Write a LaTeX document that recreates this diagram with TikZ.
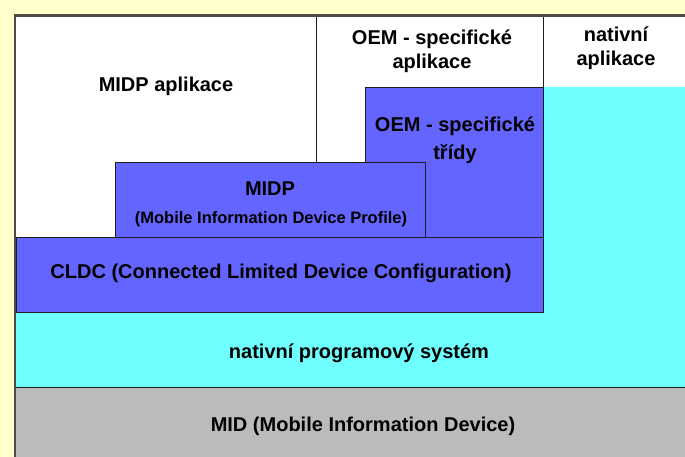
\documentclass[tikz,border=0pt]{standalone}
\usepackage{fontspec}
\setmainfont{Liberation Sans}
\definecolor{paleyellow}{HTML}{FFFFCC}
\definecolor{layerblue}{HTML}{6464FF}
\definecolor{layercyan}{HTML}{70FFFF}
\definecolor{layergrey}{HTML}{BBBBBB}
\definecolor{edge}{HTML}{1E1E1E}
\definecolor{frameline}{HTML}{4C4C44}
\tikzset{
  layer/.style={draw=edge, line width=0.9pt},
  divider/.style={draw=edge, line width=0.9pt},
  label/.style={font=\fontsize{20}{24}\selectfont\bfseries, align=center, inner sep=0pt},
  smalllabel/.style={font=\fontsize{16.5}{20}\selectfont\bfseries, align=center, inner sep=0pt}
}
\begin{document}
\begin{tikzpicture}[x=1pt, y=-1pt]
  % page area
  \fill[paleyellow] (0,0) rectangle (685,457);
  \useasboundingbox (0,0) rectangle (685,457);
  \fill[white] (16,17) rectangle (685,457);

  % native system (cyan) around the Java stack
  \fill[layercyan] (543,87) -- (685,87) -- (685,387) -- (16,387) -- (16,312) -- (543,312) -- cycle;
  \draw[edge, line width=0.6pt] (543,87) -- (543,312);

  % device layer
  \fill[layergrey] (16,387) rectangle (685,457);
  \draw[divider] (16,387) -- (685,387);

  % Java layers
  \filldraw[layer, fill=layerblue] (365,87) rectangle (543,237);
  \filldraw[layer, fill=layerblue] (115,162) rectangle (425,237);
  \filldraw[layer, fill=layerblue] (16,237) rectangle (543,312);

  % application column dividers
  \draw[divider] (316,17) -- (316,162);
  \draw[divider] (543,17) -- (543,87);

  % outer frame
  \draw[frameline, line width=2.5pt] (14.5,15.5) -- (685,15.5);
  \draw[frameline, line width=2.5pt] (14.8,14.5) -- (14.8,457);

  % texts
  \node[label] (midpapp) at (166,86) {MIDP aplikace};
  \node[label] (oemapp) at (432,51) {OEM - specifické\\aplikace};
  \node[label] (natapp) at (616,48.5) {nativní\\aplikace};
  \node[label] (oemcls) at (455,140) {OEM - specifické\\[4pt]třídy};
  \node[label] (midp) at (270,189) {MIDP};
  \node[smalllabel] (midpfull) at (271,219) {(Mobile Information Device Profile)};
  \node[label] (cldc) at (281,273) {CLDC (Connected Limited Device Configuration)};
  \node[label] (natsys) at (359,353) {nativní programový systém};
  \node[label] (mid) at (363,426) {MID (Mobile Information Device)};
\end{tikzpicture}
\end{document}
